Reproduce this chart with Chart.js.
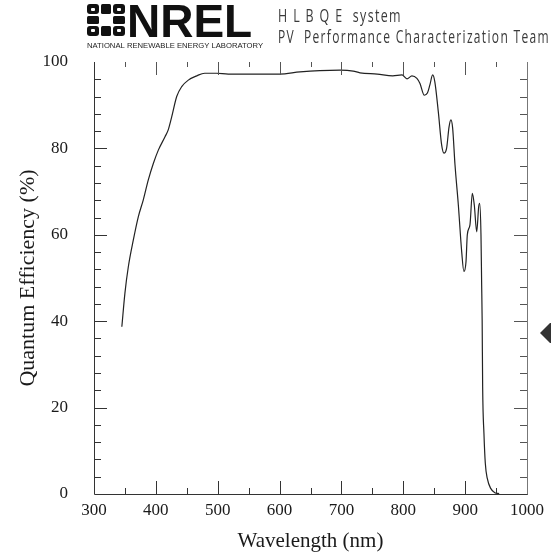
<!DOCTYPE html>
<html><head><meta charset="utf-8">
<script src="https://cdn.jsdelivr.net/npm/chart.js@4/dist/chart.umd.min.js"></script>
<style>html,body{margin:0;padding:0;background:#fff}canvas{display:block}</style>
</head><body>
<canvas id="c" width="551" height="552"></canvas>
<script>
// ---- data ----
const wavelengths = [345, 350, 355.5, 363.6, 371.7, 379.7, 387.8, 395.9, 404, 414.8, 420, 425.6, 433.7, 441.8, 452.5, 466, 479, 498, 517, 552, 600, 633, 665, 698, 719, 730, 758, 783, 798, 806, 814, 822, 827, 834, 839, 843, 847.5, 851, 856.6, 862, 865.8, 870, 874, 877, 879.8, 883.6, 889, 894.4, 898, 901.4, 903.5, 907.8, 911.6, 914.8, 918.7, 921.9, 923.5, 925.6, 926.7, 927.5, 928.3, 930.4, 932.6, 935.8, 941.3, 948, 955];
const quantumEfficiency = [38.7, 46.5, 52.6, 58.8, 64.2, 68.1, 72.7, 76.5, 79.6, 82.7, 84.3, 87.3, 92.0, 94.3, 95.8, 96.8, 97.4, 97.4, 97.2, 97.2, 97.2, 97.7, 98.0, 98.1, 97.9, 97.5, 97.2, 96.8, 97.0, 96.1, 96.8, 96.2, 95.0, 92.3, 92.8, 94.7, 97.0, 95.4, 88.5, 80.8, 78.9, 80.0, 85.0, 86.6, 84.7, 76.2, 66.9, 56.1, 51.5, 53.8, 60.0, 62.3, 69.6, 66.9, 60.7, 66.5, 67.3, 60.0, 48.4, 40.3, 24.8, 14.0, 7.1, 3.6, 1.3, 0.3, 0.1];
const xTickLabels = [300, 400, 500, 600, 700, 800, 900, 1000];
const yTickLabels = [0, 20, 40, 60, 80, 100];
const xTitle = "Wavelength (nm)";
const yTitle = "Quantum Efficiency (%)";
const logoWord = "NREL";
const logoSub = "NATIONAL RENEWABLE ENERGY LABORATORY";
const headerLine1 = "H L B Q E  system";
const headerLine2 = "PV  Performance Characterization Team";

const points = wavelengths.map((w, i) => ({x: w, y: quantumEfficiency[i]}));

const framePlugin = {
  id: 'frame',
  afterDatasetsDraw(chart) {
    const {ctx, chartArea: a, scales: {x, y}} = chart;
    ctx.save();
    ctx.lineWidth = 1;
    ctx.strokeStyle = '#333';
    ctx.beginPath();
    ctx.moveTo(a.left + 0.5, a.top);
    ctx.lineTo(a.left + 0.5, a.bottom + 0.5);
    ctx.lineTo(a.right + 1, a.bottom + 0.5);
    ctx.stroke();
    ctx.strokeStyle = '#777';
    ctx.beginPath();
    ctx.moveTo(a.right + 0.5, a.top);
    ctx.lineTo(a.right + 0.5, a.bottom + 0.5);
    ctx.stroke();
    const xs = xTickLabels[1] - xTickLabels[0];
    for (let v = x.min + xs / 2; v < x.max; v += xs / 2) {
      const px = Math.round(x.getPixelForValue(v)) + 0.5;
      const major = Math.abs(v % xs) < 1e-6;
      ctx.strokeStyle = '#333';
      ctx.beginPath();
      ctx.moveTo(px, a.bottom); ctx.lineTo(px, a.bottom - (major ? 13 : 6));
      ctx.stroke();
      ctx.strokeStyle = '#555';
      ctx.beginPath();
      ctx.moveTo(px, a.top); ctx.lineTo(px, a.top + (major ? 13 : 5));
      ctx.stroke();
    }
    const ys = yTickLabels[1] - yTickLabels[0];
    for (let v = y.min + ys / 5; v < y.max; v += ys / 5) {
      const py = Math.round(y.getPixelForValue(v)) + 0.5;
      const major = Math.abs(v % ys) < 1e-6 || Math.abs(v % ys - ys) < 1e-6;
      ctx.strokeStyle = '#333';
      ctx.beginPath();
      ctx.moveTo(a.left, py); ctx.lineTo(a.left + (major ? 13 : 7), py);
      ctx.stroke();
      ctx.strokeStyle = '#555';
      ctx.beginPath();
      ctx.moveTo(a.right, py); ctx.lineTo(a.right - (major ? 13 : 7), py);
      ctx.stroke();
    }
    ctx.restore();
  },
  afterDraw(chart) {
    const ctx = chart.ctx;
    ctx.save();
    // logo symbol: ring of blocks
    ctx.fillStyle = '#111';
    const cols = [[87, 12], [101, 10], [113, 12]];
    const rows = [[4, 10], [16, 8], [26, 10]];
    for (let r = 0; r < 3; r++) for (let c = 0; c < 3; c++) {
      if (r === 1 && c === 1) continue;
      const [x0, w] = cols[c], [y0, h] = rows[r];
      ctx.beginPath();
      ctx.roundRect(x0, y0, w, h, (r !== 1 && c !== 1) ? 3 : 1.5);
      ctx.fill();
    }
    ctx.fillStyle = '#fff';
    [[91, 8], [117, 8], [91, 29], [117, 29]].forEach(([hx, hy]) => {
      ctx.beginPath(); ctx.roundRect(hx, hy, 4, 3, 1); ctx.fill();
    });
    // logo text
    ctx.fillStyle = '#111';
    ctx.textBaseline = 'alphabetic';
    ctx.textAlign = 'left';
    ctx.font = 'bold 46px "Liberation Sans", Arial, sans-serif';
    ctx.fillText(logoWord, 127, 37, 130);
    ctx.font = '8px "Liberation Sans", Arial, sans-serif';
    ctx.fillStyle = '#222';
    ctx.fillText(logoSub, 87, 48, 176);
    // header lines
    ctx.fillStyle = '#3a3a3a';
    ctx.font = '18px "Open Sans", sans-serif';
    ctx.letterSpacing = '2px';
    ctx.fillText(headerLine1, 278, 22, 124);
    ctx.fillText(headerLine2, 278, 43, 272);
    ctx.letterSpacing = '0px';
    // side marker
    ctx.fillStyle = '#333';
    ctx.beginPath();
    ctx.moveTo(540, 333); ctx.lineTo(550, 323); ctx.lineTo(551, 323); ctx.lineTo(551, 343); ctx.lineTo(550, 343); ctx.closePath();
    ctx.fill();
    ctx.restore();
  }
};

const serif = '"Liberation Serif", "Times New Roman", serif';

new Chart(document.getElementById('c'), {
  type: 'line',
  data: {
    datasets: [{
      data: points,
      borderColor: '#222',
      borderWidth: 1.2,
      pointRadius: 0,
      cubicInterpolationMode: 'monotone',
      fill: false
    }]
  },
  options: {
    responsive: false,
    animation: false,
    events: [],
    layout: {padding: {top: 62, right: 24, left: 0, bottom: 0}},
    plugins: {legend: {display: false}, tooltip: {enabled: false}},
    scales: {
      x: {
        type: 'linear', min: 300, max: 1000,
        afterBuildTicks: (s) => { s.ticks = xTickLabels.map(v => ({value: v})); },
        afterFit: (s) => { s.height = 58; },
        grid: {display: false, drawTicks: false},
        border: {display: false},
        ticks: {padding: 6, color: '#1a1a1a', font: {family: serif, size: 17}, maxRotation: 0, autoSkip: false, callback: (v) => String(v)},
        title: {display: true, text: xTitle, color: '#1a1a1a', padding: {top: 0, bottom: 0}, font: {family: serif, size: 21, lineHeight: 1.0}}
      },
      y: {
        type: 'linear', min: 0, max: 100,
        afterBuildTicks: (s) => { s.ticks = yTickLabels.map(v => ({value: v})); },
        afterFit: (s) => { s.width = 94; },
        grid: {display: false, drawTicks: false},
        border: {display: false},
        ticks: {padding: 26, color: '#1a1a1a', font: {family: serif, size: 17}, autoSkip: false, callback: (v) => String(v)},
        title: {display: true, text: yTitle, color: '#1a1a1a', padding: {top: 17, bottom: 0}, font: {family: serif, size: 22, lineHeight: 1.0}}
      }
    }
  },
  plugins: [framePlugin]
});
</script>
</body></html>
